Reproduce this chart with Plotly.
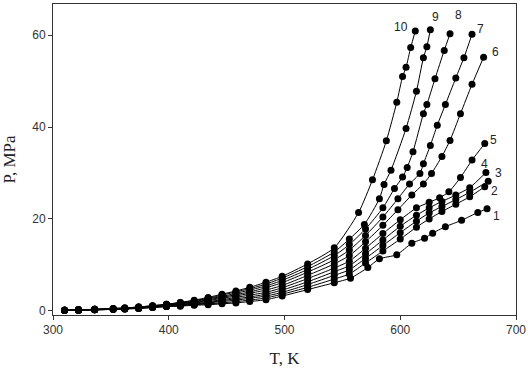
import plotly.graph_objects as go

# Shared low-temperature points (K)
T_low = [310, 322, 336, 352, 362, 374, 386, 398, 410, 422, 434, 446, 458, 470, 484, 498, 520, 543]

P_low = {
    1:  [0.1, 0.1, 0.2, 0.3, 0.4, 0.5, 0.7, 0.9, 1.0, 1.2, 1.3, 1.5, 1.7, 2.0, 2.4, 3.2, 4.6, 6.1],
    2:  [0.1, 0.1, 0.2, 0.3, 0.4, 0.5, 0.7, 0.9, 1.1, 1.3, 1.5, 1.7, 2.0, 2.3, 2.8, 3.6, 5.1, 6.9],
    3:  [0.1, 0.1, 0.2, 0.3, 0.4, 0.6, 0.8, 1.0, 1.2, 1.4, 1.7, 2.0, 2.3, 2.7, 3.2, 4.0, 5.7, 7.7],
    4:  [0.1, 0.1, 0.2, 0.3, 0.5, 0.6, 0.8, 1.0, 1.3, 1.5, 1.8, 2.2, 2.6, 3.0, 3.6, 4.5, 6.3, 8.5],
    5:  [0.1, 0.2, 0.2, 0.4, 0.5, 0.6, 0.9, 1.1, 1.4, 1.7, 2.0, 2.4, 2.9, 3.4, 4.0, 5.0, 7.0, 9.3],
    6:  [0.1, 0.2, 0.3, 0.4, 0.5, 0.7, 0.9, 1.2, 1.5, 1.8, 2.2, 2.7, 3.2, 3.8, 4.5, 5.5, 7.7, 10.2],
    7:  [0.1, 0.2, 0.3, 0.4, 0.5, 0.7, 1.0, 1.2, 1.6, 1.9, 2.4, 2.9, 3.5, 4.1, 5.0, 6.1, 8.4, 11.1],
    8:  [0.1, 0.2, 0.3, 0.4, 0.6, 0.8, 1.0, 1.3, 1.7, 2.0, 2.6, 3.1, 3.8, 4.5, 5.4, 6.6, 9.0, 12.0],
    9:  [0.1, 0.2, 0.3, 0.5, 0.6, 0.8, 1.1, 1.4, 1.8, 2.2, 2.7, 3.4, 4.1, 4.8, 5.8, 7.1, 9.6, 12.8],
    10: [0.1, 0.2, 0.3, 0.5, 0.6, 0.8, 1.1, 1.4, 1.8, 2.3, 2.9, 3.6, 4.3, 5.1, 6.2, 7.5, 10.2, 13.7],
}

# Upper (high-temperature) parts of each curve
T_high = {
    1:  [557, 572, 582, 597, 610, 621, 628, 639, 653, 667, 675],
    2:  [556, 570, 585, 600, 614, 625, 636, 648, 660, 673],
    3:  [556, 570, 585, 600, 614, 625, 636, 648, 660, 676],
    4:  [556, 570, 585, 600, 614, 625, 636, 648, 660, 674],
    5:  [556, 570, 585, 600, 614, 625, 634, 642, 652, 662, 673],
    6:  [556, 570, 585, 598, 610, 620, 627, 636, 643, 652, 662, 672],
    7:  [556, 570, 585, 598, 608, 617, 620, 626, 632, 639, 648, 655, 662],
    8:  [556, 570, 585, 595, 602, 606, 611, 620, 623, 630, 638, 643],
    9:  [556, 569, 582, 586, 592, 605, 614, 620, 623, 626],
    10: [564, 576, 588, 597, 602, 605, 609, 613],
}
P_high = {
    1:  [7.1, 9.4, 11.3, 12.2, 14.7, 15.8, 16.9, 18.3, 19.7, 21.4, 22.2],
    2:  [8.0, 10.4, 13.0, 15.6, 18.2, 20.0, 21.6, 23.2, 24.8, 27.0],
    3:  [8.9, 11.4, 14.2, 17.0, 19.5, 21.3, 22.7, 24.2, 25.8, 28.2],
    4:  [9.8, 12.4, 15.4, 18.4, 20.8, 22.4, 23.8, 25.2, 26.8, 30.1],
    5:  [10.8, 13.6, 16.8, 19.8, 22.4, 23.6, 24.6, 25.9, 29.0, 32.8, 36.4],
    6:  [12.0, 15.0, 18.6, 22.0, 25.2, 27.6, 29.9, 33.6, 37.1, 42.9, 49.3, 55.2],
    7:  [13.2, 16.4, 20.4, 24.4, 27.6, 29.9, 32.0, 36.0, 40.4, 44.9, 50.7, 55.1, 60.2],
    8:  [14.4, 17.8, 22.4, 26.6, 29.1, 31.2, 34.6, 42.9, 44.9, 50.5, 56.7, 60.3],
    9:  [15.6, 18.8, 24.4, 27.5, 30.6, 39.7, 47.8, 55.1, 57.5, 61.2],
    10: [21.4, 28.5, 37.0, 45.4, 51.0, 53.0, 57.3, 60.9],
}

labels = ["1", "2", "3", "4", "5", "6", "7", "8", "9", "10"]
label_T = [682.8, 681.0, 685.3, 672.4, 680.2, 681.9, 669.0, 650.0, 630.2, 600.9]
label_P = [20.6, 26.0, 30.1, 32.0, 37.1, 56.3, 61.4, 64.3, 63.9, 61.9]

fig = go.Figure()
for k in range(1, 11):
    fig.add_trace(go.Scatter(
        x=T_low + T_high[k], y=P_low[k] + P_high[k],
        mode="lines+markers",
        line=dict(color="black", width=1, shape="spline", smoothing=0.6),
        marker=dict(color="black", size=7),
        cliponaxis=False,
        showlegend=False, hoverinfo="skip"))

for txt, tx, py in zip(labels, label_T, label_P):
    fig.add_annotation(x=tx, y=py, text=txt, showarrow=False,
                       font=dict(family="Liberation Sans, Arial", size=12, color="#222"))

axis_common = dict(showgrid=False, zeroline=False, showline=True, linecolor="#333",
                   linewidth=1, mirror=True, ticks="outside", ticklen=4, tickcolor="#333",
                   automargin=False,
                   tickfont=dict(family="Liberation Sans, Arial", size=12, color="#333"))

fig.update_layout(
    width=528, height=376,
    margin=dict(l=53, r=12, t=4, b=61, pad=0, autoexpand=False),
    paper_bgcolor="white", plot_bgcolor="white",
    xaxis=dict(range=[300, 700], tickvals=[300, 400, 500, 600, 700],
               title=dict(text="T, K", font=dict(family="Liberation Serif, Times New Roman", size=17, color="#222")),
               **axis_common),
    yaxis=dict(range=[-0.93, 66.8], tickvals=[0, 20, 40, 60],
               title=dict(text="P, MPa", font=dict(family="Liberation Serif, Times New Roman", size=17, color="#222")),
               **axis_common),
)

fig.write_html("out.html", config={"displayModeBar": False},
               post_script="document.body.style.margin='0';document.body.style.overflow='hidden';")
